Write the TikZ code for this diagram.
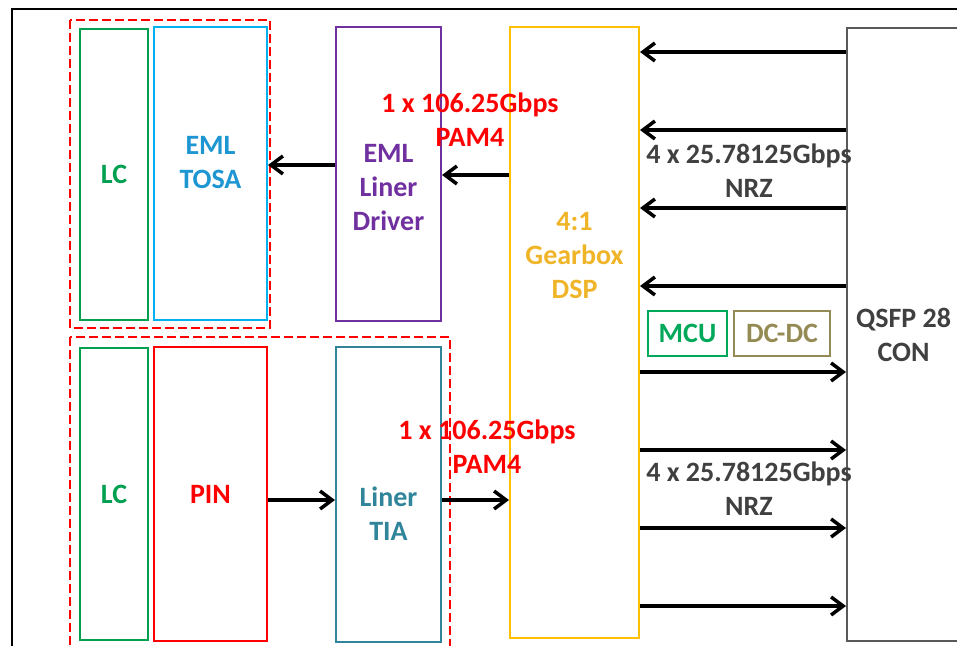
\documentclass[tikz,border=0pt]{standalone}
\usepackage{fontspec}
\setmainfont{Carlito}
\usetikzlibrary{arrows.meta}
\definecolor{lcgreen}{RGB}{0,160,80}
\definecolor{tosablue}{RGB}{0,176,240}
\definecolor{tosatext}{RGB}{30,150,210}
\definecolor{drvpurple}{RGB}{112,48,160}
\definecolor{dsporange}{RGB}{255,192,0}
\definecolor{dsptext}{RGB}{240,180,40}
\definecolor{tiateal}{RGB}{49,133,155}
\definecolor{mcugreen}{RGB}{0,168,90}
\definecolor{dcolive}{RGB}{148,138,84}
\definecolor{qsfpgray}{RGB}{89,89,89}
\definecolor{ratetext}{RGB}{64,64,64}
\begin{document}
\begin{tikzpicture}[x=1pt,y=-1pt,
		txt/.style={font=\bfseries\fontsize{28}{34}\selectfont,align=center},
		blk/.style args={#1/#2}{draw,line width=2pt,inner sep=0pt,minimum width=#1pt,minimum height=#2pt,txt},
		grp/.style={draw=red,line width=2pt,dash pattern=on 9pt off 4pt},
		arr/.style={line width=3.5pt,-{Straight Barb[length=12pt,width=18pt]}},
	]
	\useasboundingbox (0,0) rectangle (957,645);
	\clip (0,0) rectangle (957,645);
	\draw[line width=2.5pt] (12,700) |- (1000,9);
	% transmit side
	\draw[grp] (70,20) rectangle (270,328);
	\node[blk=68/291,draw=lcgreen,text=lcgreen] (lctx) at (114,174.5) {LC};
	\node[blk=113/293,draw=tosablue,
		label={[txt,text=tosatext,yshift=10.5pt]center:EML\\TOSA}] (tosa) at (210.5,173.5) {};
	\node[blk=105/294,draw=drvpurple,
		label={[txt,text=drvpurple,yshift=-14pt]center:EML\\Liner\\Driver}] (drv) at (388.5,174) {};
	% receive side
	\draw[grp] (70,337) rectangle (450,660);
	\node[blk=68/292,draw=lcgreen,text=lcgreen] (lcrx) at (114,494) {LC};
	\node[blk=113/294,draw=red,text=red] (pin) at (210.5,494) {PIN};
	\node[blk=105/295,draw=tiateal,
		label={[txt,text=tiateal,yshift=-19pt]center:Liner\\TIA}] (tia) at (388.5,494.5) {};
	% gearbox and connector
	\node[blk=129/611,draw=dsporange,
		label={[txt,text=dsptext,yshift=77.5pt]center:4:1\\Gearbox\\DSP}] (dsp) at (574.5,332.5) {};
	\node[blk=113/613,draw=qsfpgray,text=ratetext] (qsfp) at (903.5,334.5) {QSFP 28\\CON};
	\node[blk=79/45,draw=mcugreen,text=mcugreen] (mcu) at (687.5,333.5) {MCU};
	\node[blk=96/45,draw=dcolive,text=dcolive] (dcdc) at (782,333.5) {DC-DC};
	% rates
	\node[txt,text=red] (pamtx) at (470,120) {1 x 106.25Gbps\\PAM4};
	\node[txt,text=red] (pamrx) at (487,446.5) {1 x 106.25Gbps\\PAM4};
	\node[txt,text=ratetext] (nrztx) at (749,171) {4 x 25.78125Gbps\\NRZ};
	\node[txt,text=ratetext] (nrzrx) at (749,489) {4 x 25.78125Gbps\\NRZ};
	% links
	\draw[arr] (drv.west |- 0,165) -- (tosa.east |- 0,165);
	\draw[arr] (dsp.west |- 0,175) -- (drv.east |- 0,175);
	\draw[arr] (pin.east |- 0,500) -- (tia.west |- 0,500);
	\draw[arr] (tia.east |- 0,500) -- (dsp.west |- 0,500);
	\foreach \y in {52,130,208,286}
		\draw[arr] (qsfp.west |- 0,\y) -- (dsp.east |- 0,\y);
	\foreach \y in {372,450,528,606}
		\draw[arr] (dsp.east |- 0,\y) -- (qsfp.west |- 0,\y);
\end{tikzpicture}
\end{document}
